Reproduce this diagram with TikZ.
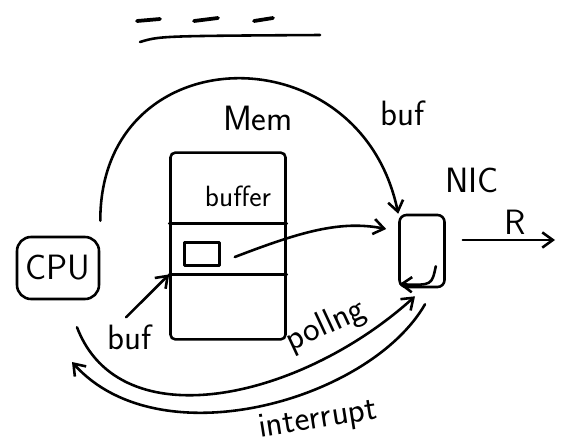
\documentclass[tikz,border=0pt]{standalone}
\usepackage{fontspec}
\usetikzlibrary{arrows.meta,calc,positioning}
\tikzset{
  hand/.style={font=\sffamily\fontsize{30}{30}\selectfont},
  small hand/.style={font=\sffamily\fontsize{25}{25}\selectfont},
  box/.style={draw,inner sep=0pt},
  barb/.style={-{Straight Barb[length=9pt,width=13pt]}},
}
\begin{document}
\begin{tikzpicture}[x=0.03cm,y=-0.03cm,line width=2.2pt,line cap=round,line join=round]
\useasboundingbox (0,0) rectangle (566,446);
% heading stub
\draw[line width=3.2pt] (137,21) -- (160,19);
\draw[line width=3.2pt] (194,21) -- (218,18);
\draw[line width=3.2pt] (254,21) -- (273,18);
\draw (140,42) .. controls (160,36) .. (320,35);

\node[box,hand,minimum width=2.46cm,minimum height=1.86cm,rounded corners=12pt] (cpu) at (58,268) {CPU};

\node[box,minimum width=3.45cm,minimum height=5.6cm,rounded corners=4pt] (mem) at (228,246) {};
\draw ($(mem.north west)!0.38!(mem.south west)$) -- ($(mem.north east)!0.38!(mem.south east)$);
\draw ($(mem.north west)!0.65!(mem.south west)$) coordinate (slotline) -- ($(mem.north east)!0.65!(mem.south east)$);
\node[box,minimum width=1.05cm,minimum height=0.69cm] (slot) at (202,254) {};
\node[small hand] (buffer) at (238,196) {buffer};
\node[hand] (memlabel) at (258,118) {Mem};

\node[box,minimum width=1.35cm,minimum height=2.16cm,rounded corners=6pt] (nic) at (422,251) {};
\node[hand] (niclabel) at (472,180) {NIC};
\node[hand] (nicbuf) at (403,113) {buf};
\draw[barb] ($(nic.south east)+(-10,-22)$) .. controls ($(nic.south east)+(-14,-3)$) .. ($(nic.south west)+(1,-4)$);

\draw[barb] ($(cpu.north east)+(0,-15)$) .. controls (100,35) and (360,30) .. (nic.north west);
\draw[barb] ($(slot.east)+(14,3)$) .. controls (300,232) and (340,220) .. ($(nic.west)+(-12,-22)$);

\node[hand] (membuf) at (130,337) {buf};
\draw[barb] ($(membuf.north)+(-4,-2)$) -- (slotline);

% polling and interrupt between cpu and nic
\coordinate (irq) at (72,362);
\draw[barb] ($(cpu.south)+(19,27)$) .. controls (120,440) and (300,400) .. ($(nic.south)+(-7,8)$);
\node[hand,rotate=25] (poll) at (326,326) {pollng};
\draw[barb] ($(nic.south)+(3,16)$) .. controls (370,400) and (160,460) .. (irq);
\node[hand,rotate=9] (intr) at (318,420) {interrupt};

\coordinate (wire) at (555,240);
\draw[barb] ($(nic.east)+(17,-11)$) -- (wire);
\node[hand] (pkt) at (515,222) {R};
\end{tikzpicture}
\end{document}
